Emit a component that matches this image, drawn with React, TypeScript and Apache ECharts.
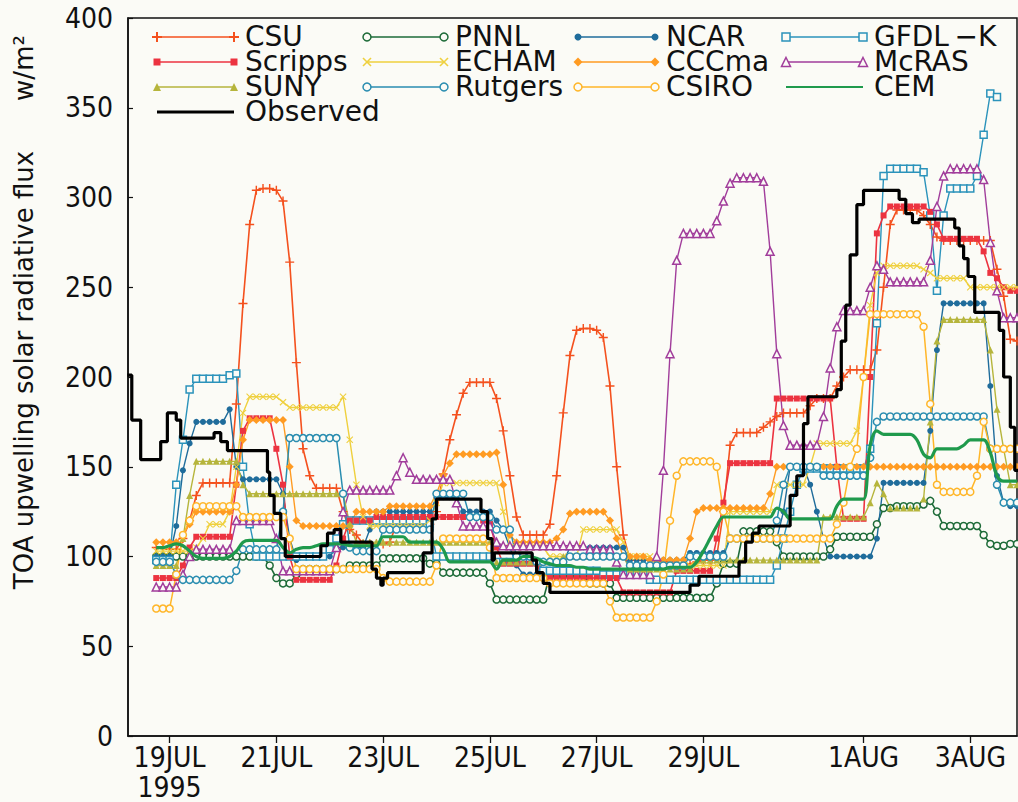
import React, { useEffect, useRef } from "react";
import * as echarts from "echarts";

// Time axis: hours after 19 JUL 1995 00:00
const X_MIN_HOUR = -18.7;
const X_MAX_HOUR = 381;
const TICK_HOURS = [0, 48, 96, 144, 192, 240, 312, 360];
const TICK_LABELS = ["19JUL\n1995", "21JUL", "23JUL", "25JUL", "27JUL", "29JUL", "1AUG", "3AUG"];
const Y_TICKS = [0, 50, 100, 150, 200, 250, 300, 350, 400];

// Model output is 3-hourly, first sample at 18 JUL 18:00
const MODEL_START_HOUR = -6;
const MODEL_STEP_HOURS = 3;

const CSU = [
  105, 105, 104, 104, 110, 120, 134, 141, 141, 141,
  141, 141, 185, 241, 285, 304, 305, 305, 304, 298,
  264, 208, 160, 145, 138, 138, 138, 138, 125, 115,
  112, 107, 107, 107, 107, 108, 118, 118, 118, 118,
  118, 118, 125, 146, 165, 179, 191, 197, 197, 197,
  197, 188, 170, 145, 122, 112, 112, 112, 112, 118,
  145, 180, 212, 226, 227, 227, 226, 222, 195, 150,
  112, 98, 98, 98, 98, 98, 97, 97, 96, 96,
  96, 97, 98, 98, 100, 125, 162, 169, 169, 169,
  169, 172, 175, 178, 180, 180, 180, 180, 184, 188,
  188, 188, 195, 200, 204, 204, 204, 204, 215, 250,
  285, 293, 293, 293, 293, 290, 285, 278, 276, 276,
  276, 276, 276, 276, 276, 276, 260, 245, 221, 220,
];
const PNNL = [
  100, 100, 100, 100, 100, 100, 100, 100, 100, 100,
  100, 100, 100, 100, 100, 100, 100, 95, 88, 85,
  85, 90, 93, 93, 93, 93, 93, 93, 93, 95,
  95, 95, 95, 95, 99, 99, 99, 99, 99, 99,
  99, 96, 96, 91, 91, 91, 91, 91, 91, 91,
  85, 76, 76, 76, 76, 76, 76, 76, 76, 90,
  90, 90, 90, 90, 90, 85, 85, 85, 85, 77,
  77, 77, 77, 77, 77, 77, 77, 77, 77, 77,
  77, 77, 77, 77, 85, 96, 96, 96, 114, 114,
  114, 114, 114, 108, 100, 100, 100, 100, 100, 100,
  100, 104, 111, 111, 111, 111, 111, 111, 118, 127,
  127, 128, 128, 128, 128, 129, 131, 125, 117, 117,
  117, 117, 117, 117, 112, 107, 106, 106, 107, 107,
];
const NCAR = [
  100, 100, 100, 117, 148, 163, 175, 175, 175, 175,
  175, 182, 150, 143, 143, 143, 143, 143, 143, 135,
  110, 98, 100, 100, 100, 100, 100, 105, 105, 105,
  105, 105, 115, 125, 125, 125, 125, 125, 125, 125,
  125, 125, 133, 133, 133, 133, 125, 125, 125, 125,
  125, 120, 115, 105, 95, 90, 90, 90, 97, 97,
  97, 97, 105, 105, 105, 105, 105, 105, 105, 105,
  105, 98, 98, 98, 98, 98, 98, 98, 98, 98,
  102, 102, 102, 102, 102, 102, 110, 110, 110, 110,
  110, 110, 110, 110, 125, 150, 150, 150, 140, 125,
  110, 100, 100, 100, 100, 100, 100, 100, 110, 141,
  141, 141, 141, 141, 141, 141, 170, 215, 241, 241,
  241, 241, 241, 241, 241, 195, 145, 130, 128, 128,
];
const GFDL_K = [
  98, 98, 98, 140, 165, 193, 199, 199, 199, 199,
  199, 201, 202, 150, 118, 100, 100, 100, 100, 100,
  100, 100, 100, 100, 100, 100, 104, 110, 118, 120,
  120, 120, 120, 120, 120, 120, 120, 120, 120, 120,
  120, 118, 100, 100, 100, 100, 100, 100, 100, 100,
  100, 97, 97, 97, 97, 97, 97, 97, 92, 92,
  92, 92, 92, 92, 92, 92, 92, 90, 90, 90,
  90, 90, 90, 90, 87, 87, 87, 87, 87, 87,
  87, 87, 87, 87, 87, 87, 87, 87, 87, 87,
  87, 87, 87, 95, 110, 125, 140, 149, 149, 149,
  149, 149, 149, 149, 149, 149, 149, 160, 230, 312,
  316, 316, 316, 316, 316, 314, 290, 248, 290, 305,
  305, 305, 305, 312, 335, 358, 356, null, null, null,
];
const SCRIPPS = [
  88, 88, 88, 88, 95, 105, 111, 111, 111, 111,
  111, 111, 140, 170, 177, 177, 177, 177, 160, 140,
  100, 87, 87, 87, 87, 87, 87, 95, 110, 120,
  120, 120, 120, 122, 122, 122, 122, 122, 122, 122,
  122, 122, 122, 122, 122, 122, 122, 122, 122, 120,
  118, 105, 96, 96, 96, 96, 96, 96, 88, 88,
  88, 88, 88, 88, 88, 88, 88, 88, 88, 88,
  80, 80, 80, 80, 80, 80, 80, 80, 92, 92,
  92, 92, 92, 92, 110, 130, 152, 152, 152, 152,
  152, 152, 152, 188, 188, 188, 188, 188, 188, 188,
  188, 188, 150, 121, 121, 121, 121, 200, 280, 290,
  295, 295, 295, 295, 295, 295, 292, 285, 277, 277,
  277, 277, 277, 277, 270, 258, 255, 250, 248, 248,
];
const ECHAM = [
  103, 103, 103, 103, 103, 103, 105, 110, 118, 118,
  118, 125, 150, 180, 189, 189, 189, 189, 189, 186,
  183, 183, 183, 183, 183, 183, 183, 183, 189, 165,
  140, 122, 117, 117, 117, 117, 117, 117, 117, 117,
  117, 120, 130, 141, 141, 141, 141, 141, 141, 141,
  141, 141, 125, 105, 105, 105, 105, 105, 105, 100,
  100, 100, 100, 100, 115, 115, 115, 115, 115, 115,
  108, 100, 100, 100, 100, 95, 95, 95, 95, 95,
  95, 95, 95, 95, 95, 95, 125, 125, 125, 125,
  125, 125, 125, 140, 140, 140, 140, 140, 150, 163,
  163, 163, 163, 163, 163, 170, 200, 240, 258, 262,
  262, 262, 262, 262, 262, 260, 258, 255, 255, 255,
  255, 255, 250, 250, 250, 250, 250, 250, 250, 250,
];
const CCCMA = [
  108, 108, 108, 108, 112, 118, 125, 125, 125, 125,
  125, 125, 140, 165, 176, 176, 176, 176, 176, 176,
  150, 120, 117, 117, 117, 117, 117, 117, 117, 117,
  125, 125, 125, 125, 125, 128, 128, 128, 128, 128,
  128, 128, 135, 145, 152, 157, 157, 157, 157, 157,
  157, 158, 140, 112, 108, 108, 108, 108, 108, 108,
  110, 115, 124, 125, 125, 125, 125, 125, 120, 110,
  100, 100, 100, 100, 98, 98, 98, 98, 98, 98,
  110, 125, 127, 127, 127, 127, 127, 127, 127, 127,
  127, 127, 135, 150, 150, 150, 150, 150, 150, 150,
  150, 150, 150, 150, 150, 150, 150, 150, 150, 150,
  150, 150, 150, 150, 150, 150, 150, 150, 150, 150,
  150, 150, 150, 150, 150, 150, 150, 150, 150, 150,
];
const MCRAS = [
  83, 83, 83, 83, 90, 100, 104, 104, 104, 104,
  104, 104, 120, 120, 120, 120, 120, 120, 110, 92,
  92, 92, 92, 92, 92, 92, 92, 105, 125, 137,
  137, 137, 137, 137, 137, 137, 145, 155, 147, 143,
  143, 143, 143, 143, 143, 130, 117, 117, 117, 117,
  117, 108, 106, 106, 106, 106, 106, 106, 106, 106,
  106, 106, 106, 106, 106, 104, 104, 104, 104, 97,
  90, 90, 90, 90, 90, 100, 148, 213, 265, 280,
  280, 280, 280, 280, 287, 298, 308, 311, 311, 311,
  311, 309, 270, 213, 173, 162, 162, 162, 162, 162,
  178, 205, 228, 237, 237, 237, 237, 250, 262, 260,
  253, 253, 253, 253, 253, 253, 265, 295, 312, 316,
  316, 316, 316, 316, 310, 275, 248, 233, 233, 233,
];
const SUNY = [
  95, 95, 95, 95, 110, 134, 153, 153, 153, 153,
  153, 153, 153, 140, 135, 135, 135, 135, 135, 135,
  135, 135, 135, 135, 135, 135, 135, 135, 135, 118,
  108, 108, 108, 108, 108, 108, 108, 108, 108, 108,
  108, 108, 108, 108, 108, 108, 108, 108, 108, 108,
  108, 97, 97, 97, 97, 97, 97, 97, 97, 97,
  97, 100, 100, 100, 100, 100, 100, 100, 100, 100,
  100, 93, 93, 93, 93, 93, 93, 93, 93, 93,
  93, 98, 98, 98, 98, 98, 98, 98, 98, 98,
  98, 98, 98, 98, 98, 98, 98, 98, 98, 98,
  122, 122, 122, 122, 122, 122, 122, 130, 141, 135,
  127, 127, 127, 127, 127, 132, 175, 220, 232, 232,
  232, 232, 232, 232, 232, 215, 182, 160, 140, 140,
];
const RUTGERS = [
  97, 97, 97, 90, 87, 87, 87, 87, 87, 87,
  87, 87, 92, 104, 104, 104, 104, 104, 104, 125,
  166, 166, 166, 166, 166, 166, 166, 166, 135, 105,
  103, 103, 103, 103, 115, 115, 115, 115, 115, 115,
  115, 115, 135, 135, 135, 135, 135, 122, 122, 122,
  122, 115, 115, 115, 100, 100, 100, 97, 97, 97,
  97, 97, 100, 100, 100, 100, 100, 100, 100, 100,
  100, 95, 95, 95, 95, 95, 95, 95, 95, 95,
  100, 100, 100, 100, 100, 100, 110, 110, 110, 110,
  110, 110, 110, 120, 140, 150, 150, 150, 150, 150,
  145, 145, 145, 145, 145, 145, 145, 155, 175, 178,
  178, 178, 178, 178, 178, 178, 178, 178, 178, 178,
  178, 178, 178, 178, 178, 160, 140, 130, 130, 130,
];
const CSIRO = [
  71, 71, 71, 90, 112, 120, 128, 128, 128, 128,
  128, 128, 128, 122, 122, 122, 122, 122, 122, 122,
  110, 93, 93, 93, 93, 93, 93, 93, 93, 93,
  93, 93, 93, 93, 88, 86, 86, 86, 86, 86,
  86, 86, 95, 110, 110, 110, 110, 110, 110, 110,
  105, 88, 88, 88, 88, 88, 88, 88, 88, 85,
  85, 85, 85, 85, 85, 85, 85, 85, 75, 66,
  66, 66, 66, 66, 66, 75, 90, 120, 145, 153,
  153, 153, 153, 153, 150, 125, 110, 110, 110, 110,
  110, 110, 110, 110, 110, 110, 110, 110, 110, 110,
  110, 110, 118, 130, 150, 160, 200, 235, 235, 235,
  235, 235, 235, 235, 235, 228, 185, 140, 136, 136,
  136, 136, 136, 145, 175, 160, 160, 160, 160, 160,
];
const CEM = [
  105, 105, 106, 107, 106, 103, 100, 99, 99, 99,
  99, 100, 103, 108, 109, 109, 109, 109, 109, 105,
  102, 104, 105, 105, 106, 107, 107, 107, 107, 106,
  106, 106, 106, 106, 111, 111, 111, 111, 108, 108,
  108, 108, 108, 104, 97, 97, 97, 97, 97, 97,
  97, 93, 98, 98, 98, 100, 100, 99, 97, 96,
  95, 95, 95, 94, 94, 93, 93, 93, 93, 93,
  93, 93, 93, 93, 93, 93, 93, 94, 94, 94,
  94, 97, 103, 110, 117, 122, 122, 122, 122, 122,
  122, 122, 122, 127, 125, 121, 121, 121, 121, 121,
  121, 121, 128, 132, 132, 132, 132, 162, 170, 168,
  168, 168, 168, 168, 165, 157, 155, 160, 160, 160,
  160, 162, 165, 165, 165, 158, 145, 142, 142, 142,
];

// Observed hourly record, one entry per change of value
const OBS_HOURS = [
  -19, -17, -13, -4, -1, 3, 5, 20, 23, 26,
  44, 45, 47, 50, 52, 68, 71, 74, 77, 91,
  93, 95, 96, 98, 114, 118, 120, 140, 143, 145,
  146, 163, 165, 168, 171, 234, 238, 256, 259, 262,
  265, 279, 282, 285, 287, 300, 302, 304, 306, 309,
  312, 328, 331, 334, 337, 353, 355, 357, 359, 362,
  373, 375, 378, 380, 382,
];
const OBS_VALUES = [
  201, 176, 154, 164, 180, 176, 166, 169, 164, 159,
  147, 134, 124, 110, 100, 106, 113, 115, 108, 93,
  88, 84, 88, 91, 102, 121, 132, 125, 110, 98,
  102, 98, 91, 85, 80, 84, 89, 97, 108, 113,
  117, 134, 145, 174, 189, 193, 220, 240, 268, 296,
  304, 299, 291, 286, 288, 283, 273, 266, 256, 236,
  226, 200, 172, 148, 148,
];

const BG = "#fbfbf6";
const AXIS_FONT = "'Liberation Sans Narrow', 'DejaVu Sans Condensed', 'DejaVu Sans', sans-serif";
const TEXT_FONT = "'DejaVu Sans', sans-serif";

const PLUS_PATH = "path://M0,4.2 L10,4.2 L10,5.8 L0,5.8 Z M4.2,0 L5.8,0 L5.8,10 L4.2,10 Z";
const CROSS_PATH =
  "path://M0,1.1 L1.1,0 L5,3.9 L8.9,0 L10,1.1 L6.1,5 L10,8.9 L8.9,10 L5,6.1 L1.1,10 L0,8.9 L3.9,5 Z";

type Style = {
  name: string;
  values: (number | null)[];
  color: string;
  marker: string;
  hollow: boolean;
  size: number;
  width: number;
};

const MODELS: Style[] = [
  { name: "CSU", values: CSU, color: "#f4511e", marker: "plus", hollow: false, size: 9, width: 1.6 },
  { name: "PNNL", values: PNNL, color: "#1d6b38", marker: "circle", hollow: true, size: 7, width: 1.6 },
  { name: "NCAR", values: NCAR, color: "#1f6c9b", marker: "circle", hollow: false, size: 6, width: 1.4 },
  { name: "GFDL-K", values: GFDL_K, color: "#2b93bb", marker: "square", hollow: true, size: 7, width: 1.4 },
  { name: "Scripps", values: SCRIPPS, color: "#ec3340", marker: "square", hollow: false, size: 6, width: 1.6 },
  { name: "ECHAM", values: ECHAM, color: "#efd03e", marker: "cross", hollow: false, size: 7, width: 1.4 },
  { name: "CCCma", values: CCCMA, color: "#ff9b22", marker: "diamond", hollow: false, size: 8, width: 1.4 },
  { name: "McRAS", values: MCRAS, color: "#a13d9b", marker: "triangle", hollow: true, size: 8, width: 1.4 },
  { name: "SUNY", values: SUNY, color: "#b6b53c", marker: "triangle", hollow: false, size: 7, width: 1.4 },
  { name: "Rutgers", values: RUTGERS, color: "#2a8db0", marker: "circle", hollow: true, size: 7, width: 1.5 },
  { name: "CSIRO", values: CSIRO, color: "#ffb629", marker: "circle", hollow: true, size: 7, width: 1.5 },
  { name: "CEM", values: CEM, color: "#1f9a4c", marker: "none", hollow: false, size: 0, width: 3.2 },
];

// Legend columns, top to bottom
const LEGEND_COLUMNS = [
  ["CSU", "Scripps", "SUNY", "Observed"],
  ["PNNL", "ECHAM", "Rutgers"],
  ["NCAR", "CCCma", "CSIRO"],
  ["GFDL-K", "McRAS", "CEM"],
];

function symbolOf(marker: string) {
  switch (marker) {
    case "plus":
      return PLUS_PATH;
    case "cross":
      return CROSS_PATH;
    case "square":
      return "rect";
    case "triangle":
      return "triangle";
    case "diamond":
      return "diamond";
    case "circle":
      return "circle";
    default:
      return "none";
  }
}

function markerGraphic(s: Style, x: number, y: number): any[] {
  const h = s.size / 2 + 0.5;
  const fill = s.hollow ? BG : s.color;
  const stroke = s.hollow ? s.color : undefined;
  const base = { fill, stroke, lineWidth: s.hollow ? 1.5 : 0 };
  switch (s.marker) {
    case "plus":
      return [
        { type: "line", shape: { x1: x - h, y1: y, x2: x + h, y2: y }, style: { stroke: s.color, lineWidth: 2 } },
        { type: "line", shape: { x1: x, y1: y - h, x2: x, y2: y + h }, style: { stroke: s.color, lineWidth: 2 } },
      ];
    case "cross":
      return [
        { type: "line", shape: { x1: x - h, y1: y - h, x2: x + h, y2: y + h }, style: { stroke: s.color, lineWidth: 1.6 } },
        { type: "line", shape: { x1: x - h, y1: y + h, x2: x + h, y2: y - h }, style: { stroke: s.color, lineWidth: 1.6 } },
      ];
    case "square":
      return [{ type: "rect", shape: { x: x - h, y: y - h, width: 2 * h, height: 2 * h }, style: base }];
    case "triangle":
      return [{ type: "polygon", shape: { points: [[x, y - h], [x + h, y + h], [x - h, y + h]] }, style: base }];
    case "diamond":
      return [{ type: "polygon", shape: { points: [[x, y - h], [x + h, y], [x, y + h], [x - h, y]] }, style: base }];
    case "circle":
      return [{ type: "circle", shape: { cx: x, cy: y, r: h }, style: base }];
    default:
      return [];
  }
}

function buildLegend(): any[] {
  const colLine = [157, 367, 578, 786];
  const lineLen = 77;
  const rowStep = 25;
  const firstRowY = 37;
  const els: any[] = [];
  LEGEND_COLUMNS.forEach((col, c) => {
    const x1 = colLine[c];
    const x2 = x1 + lineLen;
    col.forEach((name, r) => {
      const y = firstRowY + r * rowStep;
      if (name === "Observed") {
        els.push({ type: "line", shape: { x1, y1: y, x2, y2: y }, style: { stroke: "#000", lineWidth: 3.2 } });
      } else {
        const s = MODELS.find((m) => m.name === name)!;
        els.push({
          type: "line",
          shape: { x1, y1: y, x2, y2: y },
          style: { stroke: s.color, lineWidth: name === "CEM" ? 2.2 : 1.5 },
        });
        els.push(...markerGraphic(s, x1, y), ...markerGraphic(s, x2, y));
      }
    });
    // one block of text per legend column, one line per entry
    els.push({
      type: "text",
      x: x2 + 11,
      y: firstRowY - rowStep / 2 - 1,
      style: {
        text: col.map((n) => (n === "GFDL-K" ? "GFDL\u2009\u2212K" : n)).join("\n"),
        fill: "#111",
        fontSize: 28,
        lineHeight: rowStep,
        fontFamily: TEXT_FONT,
        align: "left",
        verticalAlign: "top",
        textAlign: "left",
        textVerticalAlign: "top",
      },
    });
  });
  return els;
}

function modelSeries(s: Style): any {
  const data = s.values
    .map((v, i) => [MODEL_START_HOUR + MODEL_STEP_HOURS * i, v])
    .filter((p) => p[1] !== null);
  const isCem = s.marker === "none";
  return {
    name: s.name,
    type: "line",
    data,
    smooth: isCem ? 0.35 : false,
    showSymbol: !isCem,
    symbol: symbolOf(s.marker),
    symbolSize: s.size,
    lineStyle: { color: s.color, width: s.width },
    itemStyle: s.hollow
      ? { color: BG, borderColor: s.color, borderWidth: 1.5 }
      : { color: s.color, borderWidth: 0 },
    z: isCem ? 3 : 2,
    silent: true,
  };
}

export default function App() {
  const ref = useRef<HTMLDivElement>(null);

  useEffect(() => {
    if (!ref.current) return;
    const chart = echarts.init(ref.current, null, { renderer: "svg" });

    const observed = OBS_HOURS.map((h, i) => [h, OBS_VALUES[i]]);

    const option: any = {
      animation: false,
      backgroundColor: BG,
      grid: {
        left: 128,
        right: 1,
        top: 18,
        bottom: 65,
        show: true,
        borderColor: "#111",
        borderWidth: 1.5,
        backgroundColor: BG,
      },
      xAxis: {
        type: "value",
        min: X_MIN_HOUR,
        max: X_MAX_HOUR,
        axisLine: { show: true, onZero: false, lineStyle: { color: "#111", width: 1.5 } },
        axisTick: {
          show: true,
          customValues: TICK_HOURS,
          length: 7,
          inside: false,
          lineStyle: { color: "#111", width: 1.3 },
        },
        axisLabel: {
          customValues: TICK_HOURS,
          formatter: (v: number) => {
            const i = TICK_HOURS.indexOf(v);
            return i >= 0 ? TICK_LABELS[i] : "";
          },
          color: "#111",
          fontSize: 28,
          fontFamily: AXIS_FONT,
          margin: 6,
          lineHeight: 30,
        },
        splitLine: { show: false },
      },
      yAxis: {
        type: "value",
        min: Y_TICKS[0],
        max: Y_TICKS[Y_TICKS.length - 1],
        interval: 50,
        axisLine: { show: true, onZero: false, lineStyle: { color: "#111", width: 1.5 } },
        axisTick: { show: true, inside: true, length: 5, lineStyle: { color: "#111", width: 1.2 } },
        axisLabel: {
          color: "#111",
          fontSize: 28,
          fontFamily: AXIS_FONT,
          margin: 15,
        },
        splitLine: { show: false },
      },
      graphic: [
        {
          type: "text",
          x: 24,
          y: 370,
          rotation: Math.PI / 2,
          style: {
            text: "TOA upwelling solar radiative flux",
            fill: "#111",
            fontSize: 26,
            fontFamily: TEXT_FONT,
            align: "center",
            verticalAlign: "middle",
            textAlign: "center",
            textVerticalAlign: "middle",
          },
        },
        {
          type: "text",
          x: 24,
          y: 68,
          rotation: Math.PI / 2,
          style: {
            text: "w/m\u00b2",
            fill: "#111",
            fontSize: 26,
            fontFamily: TEXT_FONT,
            align: "center",
            verticalAlign: "middle",
            textAlign: "center",
            textVerticalAlign: "middle",
          },
        },
        ...buildLegend(),
      ],
      series: [
        ...MODELS.map(modelSeries),
        {
          name: "Observed",
          type: "line",
          data: observed,
          step: "end",
          showSymbol: false,
          symbol: "none",
          lineStyle: { color: "#000", width: 3.2 },
          z: 4,
          silent: true,
        },
      ],
    };

    chart.setOption(option);
    return () => chart.dispose();
  }, []);

  return (
    <div
      ref={ref}
      style={{ position: "fixed", left: 0, top: 0, width: 1018, height: 802, background: BG }}
    />
  );
}
